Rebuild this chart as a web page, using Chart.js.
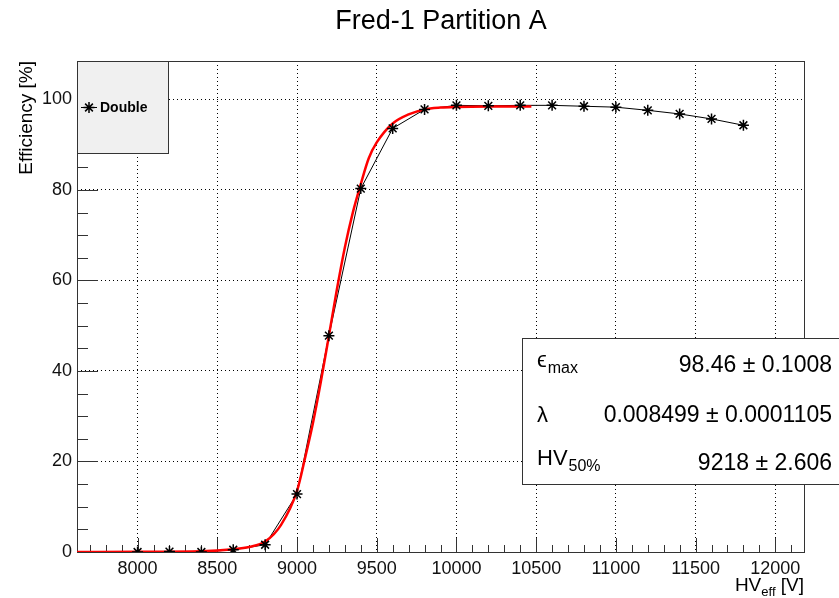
<!DOCTYPE html>
<html>
<head>
<meta charset="utf-8">
<script src="https://cdn.jsdelivr.net/npm/chart.js@4"></script>
<style>
  body { margin: 0; background: #fff; }
  canvas { display: block; }
</style>
</head>
<body>
<canvas id="chart" width="839" height="598"></canvas>
<script>
// measured points, "Double" layer
const hvEff = [8000, 8200, 8400, 8600, 8800, 9000, 9200, 9400, 9600, 9800,
  10000, 10200, 10400, 10600, 10800, 11000, 11200, 11400, 11600, 11800];
const efficiency = [0, 0.1, 0, 0.5, 1.6, 12.8, 47.8, 80.3, 93.6, 97.8,
  98.7, 98.6, 98.7, 98.7, 98.5, 98.3, 97.6, 96.8, 95.7, 94.3];

// sigmoid fit
const fitHv = [7620, 8000, 8400, 8600, 8700, 8800, 8900, 9000, 9050, 9100,
  9150, 9200, 9250, 9300, 9350, 9400, 9450, 9500, 9600, 9700,
  9800, 9900, 10000, 10200, 10470];
const fitEff = [0, 0.04, 0.15, 0.6, 1.1, 2.3, 6.0, 13.5, 20.7, 28.5,
  37.7, 47.8, 58.0, 67.3, 75.0, 81.3, 87.0, 90.5, 94.7, 96.7,
  97.8, 98.2, 98.35, 98.45, 98.46];

const xTicks = [8000, 8500, 9000, 9500, 10000, 10500, 11000, 11500, 12000];
const yTicks = [0, 20, 40, 60, 80, 100];

const fitNames = ["\u03f5", "\u03bb", "HV"];
const fitSubs = ["max", "", "50%"];
const fitValues = ["98.46 \u00b1 0.1008", "0.008499 \u00b1 0.0001105", "9218 \u00b1 2.606"];

const chartTitle = "Fred-1 Partition A";
const yTitle = "Efficiency [%]";
const legendLabel = "Double";

const FONT = "'Liberation Sans', Arial, Helvetica, sans-serif";

const toXY = (xs, ys) => xs.map((x, i) => ({ x: x, y: ys[i] }));

// ROOT look: frame, inward ticks, legend, stats box, titles
const rootDecor = {
  id: "rootDecor",
  beforeDatasetsDraw(chart) {
    const { ctx, chartArea: a, scales } = chart;
    ctx.save();
    ctx.strokeStyle = "#333";
    ctx.lineWidth = 1;
    ctx.beginPath();
    for (let v = Math.ceil(scales.x.min / 100) * 100; v <= scales.x.max; v += 100) {
      const px = Math.round(scales.x.getPixelForValue(v)) + 0.5;
      const len = v % 500 === 0 ? 14 : 7;
      ctx.moveTo(px, a.bottom);
      ctx.lineTo(px, a.bottom - len);
    }
    for (let v = 0; v <= scales.y.max; v += 5) {
      const py = Math.round(scales.y.getPixelForValue(v)) + 0.5;
      const len = v % 20 === 0 ? 21 : 11;
      ctx.moveTo(a.left, py);
      ctx.lineTo(a.left + len, py);
    }
    ctx.stroke();
    ctx.strokeRect(Math.round(a.left) + 0.5, Math.round(a.top) + 0.5,
      Math.round(a.right - a.left), Math.round(a.bottom - a.top));
    ctx.restore();
  },
  afterDraw(chart) {
    const { ctx, chartArea: a } = chart;
    ctx.save();
    ctx.fillStyle = "#000";

    // title
    ctx.font = "27px " + FONT;
    ctx.textAlign = "center";
    ctx.textBaseline = "alphabetic";
    ctx.fillText(chartTitle, 441, 29);

    // y axis title
    ctx.save();
    ctx.translate(32, a.top);
    ctx.rotate(-Math.PI / 2);
    ctx.font = "19px " + FONT;
    ctx.textAlign = "right";
    ctx.fillText(yTitle, 0, 0);
    ctx.restore();

    // x axis title HV_eff [V]
    ctx.textAlign = "left";
    ctx.font = "19px " + FONT;
    const w1 = ctx.measureText("HV").width;
    const w3 = ctx.measureText(" [V]").width;
    ctx.font = "13px " + FONT;
    const w2 = ctx.measureText("eff").width;
    let x0 = a.right - w1 - w2 - w3;
    ctx.font = "19px " + FONT;
    ctx.fillText("HV", x0, 591);
    ctx.fillText(" [V]", x0 + w1 + w2, 591);
    ctx.font = "13px " + FONT;
    ctx.fillText("eff", x0 + w1, 596);

    // legend box
    ctx.fillStyle = "#f0f0f0";
    ctx.fillRect(a.left + 0.5, a.top + 0.5, 91, 92);
    ctx.strokeStyle = "#333";
    ctx.lineWidth = 1;
    ctx.strokeRect(a.left + 0.5, a.top + 0.5, 91, 92);
    ctx.beginPath();
    ctx.moveTo(81, 107.5);
    ctx.lineTo(97, 107.5);
    ctx.strokeStyle = "#000";
    ctx.stroke();
    ctx.lineWidth = 1.5;
    Chart.helpers.drawPoint(ctx, { pointStyle: "star", radius: 5.5, borderWidth: 1.5 }, 89, 107.5);
    ctx.fillStyle = "#000";
    ctx.font = "bold 14px " + FONT;
    ctx.fillText(legendLabel, 100, 112);

    // fit parameter box
    ctx.lineWidth = 1;
    ctx.fillStyle = "#fff";
    ctx.fillRect(522.5, 338.5, 330, 146);
    ctx.strokeStyle = "#333";
    ctx.strokeRect(522.5, 338.5, 330, 146);
    ctx.fillStyle = "#000";
    const rows = [371.5, 421.5, 470];
    fitNames.forEach((name, i) => {
      const base = rows[i];
      ctx.textAlign = "left";
      ctx.font = "22px " + FONT;
      const lb = fitSubs[i] ? base - 5 : base;
      ctx.fillText(name, 537, lb);
      const nw = ctx.measureText(name).width;
      if (fitSubs[i]) {
        ctx.font = "16px " + FONT;
        ctx.fillText(fitSubs[i], 537 + nw + 1, base + 1);
      }
      ctx.font = "23px " + FONT;
      ctx.textAlign = "right";
      ctx.fillText(fitValues[i], 832, base);
    });
    ctx.restore();
  }
};

new Chart(document.getElementById("chart"), {
  type: "line",
  data: {
    datasets: [
      {
        data: toXY(hvEff, efficiency),
        borderColor: "#000",
        borderWidth: 1,
        pointRadius: 0,
        tension: 0,
        order: 3
      },
      {
        data: toXY(fitHv, fitEff),
        borderColor: "#ff0000",
        borderWidth: 2.5,
        pointRadius: 0,
        cubicInterpolationMode: "monotone",
        order: 2
      },
      {
        data: toXY(hvEff, efficiency),
        showLine: false,
        pointStyle: "star",
        pointRadius: 5.5,
        pointBorderWidth: 1.5,
        pointBorderColor: "#000",
        order: 1
      }
    ]
  },
  options: {
    responsive: false,
    devicePixelRatio: 1,
    animation: false,
    events: [],
    layout: { padding: { left: 0, top: 61, right: 35, bottom: 0 } },
    plugins: { legend: { display: false }, tooltip: { enabled: false } },
    scales: {
      x: {
        type: "linear",
        min: 7620,
        max: 12180,
        afterFit: (s) => { s.height = 46; },
        afterBuildTicks: (s) => { s.ticks = xTicks.map((v) => ({ value: v })); },
        ticks: {
          autoSkip: false,
          maxRotation: 0,
          padding: 6,
          color: "#111",
          font: { family: FONT, size: 18 },
          callback: (v) => String(v)
        },
        grid: { color: "#000", lineWidth: 1, drawTicks: false },
        border: { display: false, dash: [1, 3] }
      },
      y: {
        type: "linear",
        min: 0,
        max: 108.5,
        afterFit: (s) => { s.width = 77; },
        afterBuildTicks: (s) => { s.ticks = yTicks.map((v) => ({ value: v })); },
        ticks: {
          autoSkip: false,
          padding: 5,
          color: "#111",
          font: { family: FONT, size: 18 },
          callback: (v) => String(v)
        },
        grid: { color: "#000", lineWidth: 1, drawTicks: false },
        border: { display: false, dash: [1, 3] }
      }
    }
  },
  plugins: [rootDecor]
});
</script>
</body>
</html>
